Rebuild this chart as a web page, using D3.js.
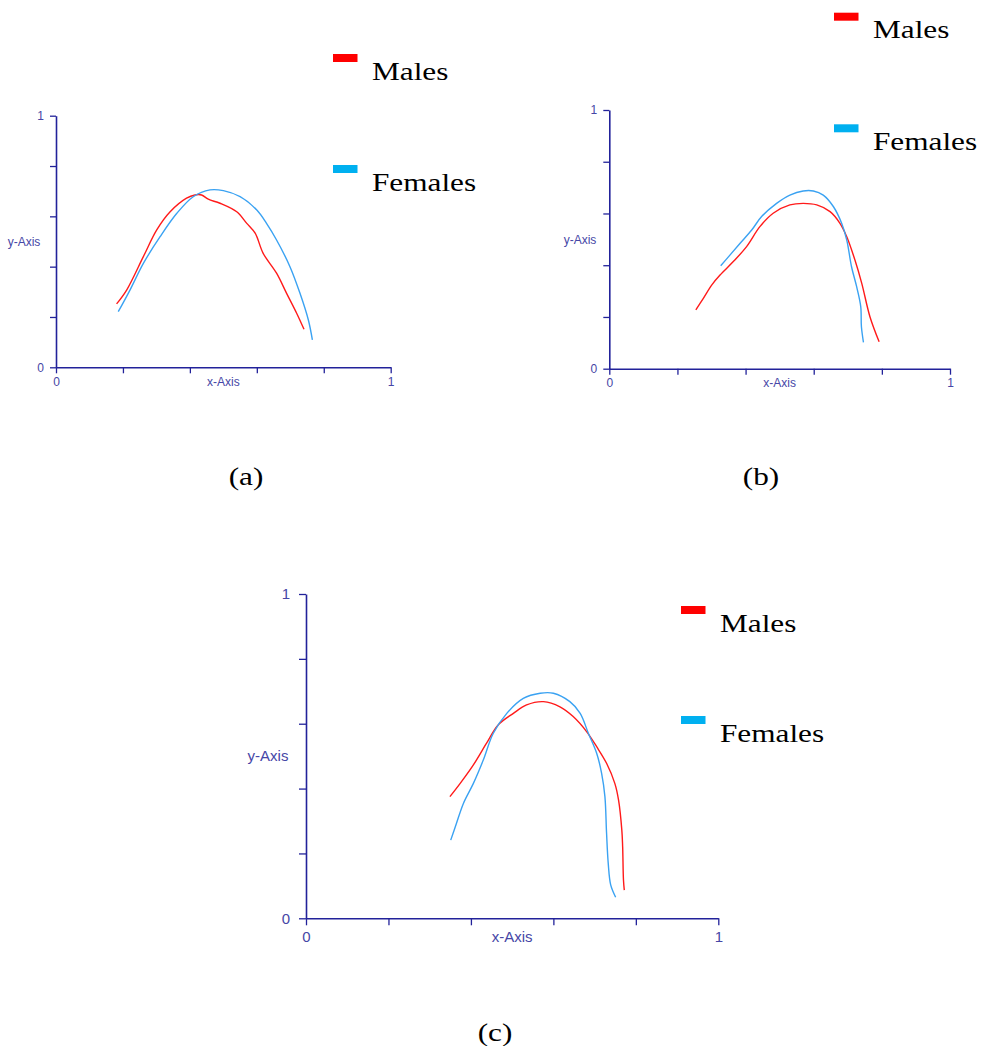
<!DOCTYPE html>
<html>
<head>
<meta charset="utf-8">
<script src="https://cdn.jsdelivr.net/npm/d3@7"></script>
<style>
  body { margin: 0; background: #fff; }
  svg { display: block; }
  .serif { font-family: "Liberation Serif", "Times New Roman", Times, serif; font-weight: normal; }
  .sans { font-family: "Liberation Sans", Arial, Helvetica, sans-serif; }
</style>
</head>
<body>
<svg id="chart" width="987" height="1046"></svg>
<script>
// ---- data ----
const seriesNames = ["Males", "Females"];
const tickValues = [0, 0.2, 0.4, 0.6, 0.8, 1];
const tickLabels = ["0", "", "", "", "", "1"];
const axisTitles = ["x-Axis", "y-Axis"];
const captions = ["(a)", "(b)", "(c)"];

// panel (a)
const malesA = [[0.181,0.252],[0.211,0.307],[0.261,0.440],[0.301,0.546],[0.341,0.618],[0.390,0.672],
  [0.415,0.685],[0.435,0.685],[0.455,0.668],[0.490,0.652],[0.540,0.618],[0.570,0.572],[0.595,0.533],
  [0.619,0.453],[0.659,0.374],[0.689,0.294],[0.719,0.215],[0.741,0.151]];
const femalesA = [[0.186,0.221],[0.221,0.307],[0.261,0.413],[0.311,0.519],[0.361,0.612],[0.410,0.678],
  [0.460,0.705],[0.500,0.702],[0.550,0.678],[0.600,0.625],[0.629,0.572],[0.659,0.506],[0.699,0.400],
  [0.729,0.294],[0.754,0.188],[0.766,0.109]];

// panel (b)
const malesB = [[0.254,0.227],[0.276,0.272],[0.301,0.324],[0.325,0.362],[0.364,0.414],[0.403,0.472],
  [0.442,0.549],[0.481,0.601],[0.530,0.633],[0.569,0.639],[0.609,0.633],[0.648,0.607],[0.677,0.562],
  [0.697,0.510],[0.721,0.420],[0.741,0.330],[0.765,0.201],[0.792,0.104]];
const femalesB = [[0.327,0.398],[0.354,0.439],[0.384,0.485],[0.418,0.536],[0.447,0.588],[0.491,0.639],
  [0.530,0.671],[0.569,0.687],[0.599,0.687],[0.628,0.671],[0.658,0.626],[0.682,0.562],[0.697,0.497],
  [0.711,0.394],[0.726,0.317],[0.738,0.240],[0.740,0.162],[0.746,0.102]];

// panel (c)
const malesC = [[0.349,0.375],[0.374,0.416],[0.406,0.473],[0.438,0.540],[0.466,0.596],[0.503,0.632],
  [0.535,0.658],[0.576,0.668],[0.616,0.652],[0.648,0.622],[0.681,0.575],[0.705,0.529],[0.729,0.478],
  [0.749,0.416],[0.758,0.365],[0.766,0.272],[0.768,0.221],[0.770,0.118],[0.772,0.087]];
const femalesC = [[0.351,0.241],[0.365,0.293],[0.382,0.355],[0.406,0.416],[0.430,0.488],[0.454,0.570],
  [0.487,0.632],[0.527,0.678],[0.568,0.694],[0.600,0.694],[0.640,0.668],[0.665,0.632],[0.685,0.570],
  [0.705,0.509],[0.717,0.447],[0.725,0.375],[0.729,0.262],[0.733,0.170],[0.739,0.103],[0.751,0.065]];

// ---- styling ----
const lineColors = ["#ff1a1a", "#3aa2f2"];
const legendColors = ["#ff0000", "#00b0f0"];
const axisColor = "#22229a";
const axisTextColor = "#4646a6";

// ---- layout of the three panels ----
const panels = [
  { males: malesA, females: femalesA, left: 56, right: 390.7, top: 115.7, bottom: 367.3,
    font: 12, tick: 6, padX: 4, padY: 6, yTitleX: 24,
    legend: { x: 333, y: [54, 165] }, caption: { x: 246, y: 485 } },
  { males: malesB, females: femalesB, left: 609.3, right: 950, top: 110, bottom: 368.7,
    font: 12, tick: 6, padX: 4, padY: 6, yTitleX: 580,
    legend: { x: 834, y: [12.7, 124.3] }, caption: { x: 761, y: 485 } },
  { males: malesC, females: femalesC, left: 306, right: 718.3, top: 594, bottom: 918.3,
    font: 15, tick: 7, padX: 6, padY: 9, yTitleX: 268,
    legend: { x: 681, y: [606, 716] }, caption: { x: 495, y: 1040.5 } }
];

const svg = d3.select("#chart");
const fmt = d => tickLabels[tickValues.indexOf(d)];

panels.forEach((p, i) => {
  const x = d3.scaleLinear().domain([0, 1]).range([p.left, p.right]);
  const y = d3.scaleLinear().domain([0, 1]).range([p.bottom, p.top]);
  const g = svg.append("g");

  const xAxis = g.append("g")
    .attr("transform", `translate(0,${p.bottom})`)
    .call(d3.axisBottom(x).tickValues(tickValues).tickFormat(fmt)
      .tickSize(p.tick).tickSizeOuter(0).tickPadding(p.padX));
  const yAxis = g.append("g")
    .attr("transform", `translate(${p.left},0)`)
    .call(d3.axisLeft(y).tickValues(tickValues).tickFormat(fmt)
      .tickSize(p.tick).tickSizeOuter(0).tickPadding(p.padY));

  [xAxis, yAxis].forEach(a => {
    a.attr("font-family", null).attr("font-size", null);
    a.select(".domain").attr("stroke", axisColor).attr("stroke-width", 1.6);
    a.selectAll(".tick line").attr("stroke", axisColor).attr("stroke-width", 1.3);
    a.selectAll(".tick text").attr("class", "sans").attr("fill", axisTextColor)
      .style("font-size", p.font + "px");
  });

  // axis titles
  const labelY = p.bottom + p.tick + p.padX + p.font * 0.36;
  g.append("text").text(axisTitles[0]).attr("class", "sans")
    .attr("x", (p.left + p.right) / 2).attr("y", labelY)
    .attr("dy", "0.35em").attr("text-anchor", "middle")
    .attr("fill", axisTextColor).style("font-size", p.font + "px");
  g.append("text").text(axisTitles[1]).attr("class", "sans")
    .attr("x", p.yTitleX).attr("y", (p.top + p.bottom) / 2)
    .attr("dy", "0.35em").attr("text-anchor", "middle")
    .attr("fill", axisTextColor).style("font-size", p.font + "px");

  // curves
  const line = d3.line().x(d => x(d[0])).y(d => y(d[1]))
    .curve(d3.curveCatmullRom.alpha(0.5));
  [p.males, p.females].forEach((s, k) => {
    g.append("path").datum(s)
      .attr("d", line)
      .attr("fill", "none")
      .attr("stroke", lineColors[k])
      .attr("stroke-width", 1.4)
      .attr("stroke-linejoin", "round");
  });

  // legend
  seriesNames.forEach((name, k) => {
    const ly = p.legend.y[k];
    g.append("rect")
      .attr("x", p.legend.x).attr("y", ly)
      .attr("width", 24.5).attr("height", 8)
      .attr("fill", legendColors[k]);
    g.append("text").text(name).attr("class", "serif")
      .attr("transform", `translate(${p.legend.x + 39},${ly + 25.5}) scale(1.25,1)`)
      .style("font-size", "25px").attr("fill", "#000");
  });

  // caption
  g.append("text").text(captions[i]).attr("class", "serif")
    .attr("transform", `translate(${p.caption.x},${p.caption.y}) scale(1.25,1)`)
    .attr("text-anchor", "middle")
    .style("font-size", "25px").attr("fill", "#000");
});
</script>
</body>
</html>
